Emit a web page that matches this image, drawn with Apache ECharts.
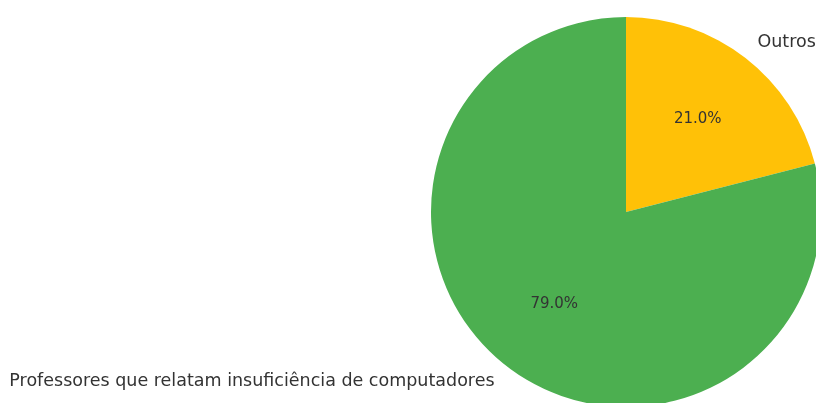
<!DOCTYPE html>
<html>
<head>
<meta charset="utf-8">
<script src="https://cdn.jsdelivr.net/npm/echarts@6/dist/echarts.min.js"></script>
<style>
html, body { margin: 0; padding: 0; background: #fff; }
#chart { width: 816px; height: 403px; }
</style>
</head>
<body>
<div id="chart"></div>
<script>
// dados do gráfico
var categorias = ['Outros', 'Professores que relatam insuficiência de computadores'];
var valores = [21, 79];
var cores = ['#FFC107', '#4CAF50'];

var fonte = '"DejaVu Sans", sans-serif';
var R = 195;
var centro = [626, 212];

var dados = categorias.map(function (c, i) {
    return { name: c, value: valores[i], itemStyle: { color: cores[i] } };
});
var dadosTransp = categorias.map(function (c, i) {
    return { name: c, value: valores[i], itemStyle: { color: 'rgba(0,0,0,0)' } };
});

var myChart = echarts.init(document.getElementById('chart'));
var option = {
    animation: false,
    series: [
        {
            // fatias + rótulos externos
            type: 'pie',
            center: centro,
            radius: R,
            startAngle: 90,
            clockwise: true,
            avoidLabelOverlap: false,
            silent: true,
            data: dados,
            label: {
                show: true,
                position: 'outside',
                distanceToLabelLine: 0,
                fontFamily: fonte,
                fontSize: 17.5,
                color: '#333333',
                formatter: '{b}'
            },
            labelLine: { show: false, length: R * 0.1, length2: 0 }
        },
        {
            // percentuais (~0.6 do raio)
            type: 'pie',
            center: centro,
            radius: [R * 0.17, R],
            startAngle: 90,
            clockwise: true,
            avoidLabelOverlap: false,
            silent: true,
            data: dadosTransp,
            label: {
                show: true,
                position: 'inside',
                fontFamily: fonte,
                fontSize: 15,
                color: '#333333',
                formatter: function (p) { return p.percent.toFixed(1) + '%'; }
            },
            labelLine: { show: false }
        }
    ]
};
myChart.setOption(option);
</script>
</body>
</html>
